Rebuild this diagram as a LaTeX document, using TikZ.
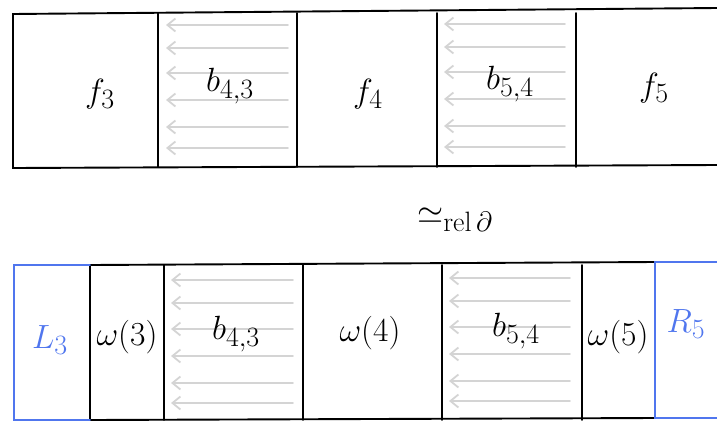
\documentclass[tikz,border=0pt]{standalone}
\usepackage{amsmath,amssymb}
\usetikzlibrary{arrows.meta,positioning}
\definecolor{penblue}{RGB}{80,118,238}
\begin{document}
\begin{tikzpicture}[x=1pt,y=-1pt,line width=1.9pt,line cap=round,
    lbl/.style={font=\Huge,scale=1.35,inner sep=0pt},
    flow/.style={draw=black!17,line width=1.8pt,-{Straight Barb[length=8pt,width=13pt]}}]
  \useasboundingbox (0,0) rectangle (717,426);
  % upper strip
  \draw (717,8)--(13,14)--(13,168)--(717,165);
  \foreach \x in {158,297,437,576}{\draw (\x,13)--(\x,167);}
  \foreach \y in {25,48,73,100,127,148}{
    \draw[flow] (288,\y)--(166,\y);
    \draw[flow] (565,\y-1)--(444,\y-1);}
  \node[lbl] (f3) at (100,94) {$f_3$};
  \node[lbl] (b43) at (230,86) {$b_{4,3}$};
  \node[lbl] (f4) at (368,94) {$f_4$};
  \node[lbl] (b54) at (510,84) {$b_{5,4}$};
  \node[lbl] (f5) at (654,88) {$f_5$};
  % homotopy
  \node[lbl] (rel) at (455,220) {$\simeq_{\mathrm{rel}\,\partial}$};
  % lower strip
  \draw (90,265)--(655,262);
  \draw (90,420)--(655,418);
  \foreach \x in {90,164,303,442,582}{\draw (\x,265)--(\x,420);}
  \draw[penblue] (90,265)--(14,265)--(14,420)--(90,420);
  \draw[penblue] (717,262)--(655,262)--(655,418)--(717,418);
  \foreach \y in {280,303,329,356,383,403}{
    \draw[flow] (293,\y)--(171,\y);
    \draw[flow] (570,\y-2)--(449,\y-2);}
  \node[lbl,text=penblue] (L3) at (50,340) {$L_3$};
  \node[lbl] (w3) at (127,337) {$\omega(3)$};
  \node[lbl] (bb43) at (236,334) {$b_{4,3}$};
  \node[lbl] (w4) at (370,333) {$\omega(4)$};
  \node[lbl] (bb54) at (516,331) {$b_{5,4}$};
  \node[lbl] (w5) at (618,337) {$\omega(5)$};
  \node[lbl,text=penblue] (R5) at (686,324) {$R_5$};
\end{tikzpicture}
\end{document}
